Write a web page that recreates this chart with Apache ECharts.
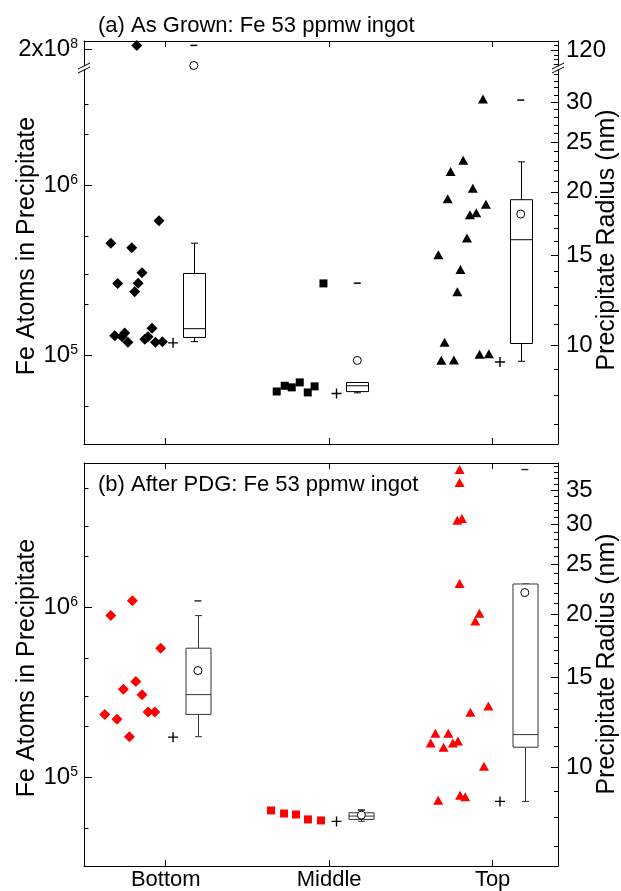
<!DOCTYPE html>
<html lang="en">
<head>
  <meta charset="UTF-8">
  <title>Fe precipitates</title>
  <script src="https://cdn.jsdelivr.net/npm/echarts@6/dist/echarts.min.js"></script>
  <style>
    html, body { margin: 0; padding: 0; background: #fff; }
    #main { width: 621px; height: 891px; }
  </style>
</head>
<body>
<div id="main"></div>
<script type="text/javascript">
  // categories sit at x = 1, 2, 3 ; points are spread to the left of each tick
  var categories = ['Bottom', 'Middle', 'Top'];

  // (a) as grown -- Fe atoms per precipitate, and x offset from the category tick
  var grownBottomN = [2.1e8, 6.17e5, 4.54e5, 4.28e5, 3.05e5, 2.64e5, 2.65e5, 2.36e5, 1.44e5, 1.30e5, 1.35e5, 1.28e5, 1.19e5, 1.24e5, 1.28e5, 1.19e5, 1.20e5];
  var grownBottomDx = [-0.177, -0.041, -0.336, -0.208, -0.145, -0.294, -0.169, -0.190, -0.084, -0.312, -0.251, -0.267, -0.231, -0.128, -0.108, -0.063, -0.020];
  var grownMiddleN = [6.11e4, 6.60e4, 6.46e4, 6.91e4, 6.03e4, 6.55e4, 2.64e5];
  var grownMiddleDx = [-0.321, -0.272, -0.229, -0.180, -0.131, -0.089, -0.035];
  var grownTopN = [3.21e6, 1.40e6, 1.20e6, 9.57e5, 8.30e5, 7.70e5, 6.69e5, 6.87e5, 4.88e5, 3.89e5, 3.19e5, 2.36e5, 1.19e5, 9.31e4, 9.35e4, 1.01e5, 1.02e5];
  var grownTopDx = [-0.059, -0.180, -0.257, -0.121, -0.275, -0.041, -0.139, -0.100, -0.157, -0.332, -0.197, -0.216, -0.294, -0.314, -0.237, -0.080, -0.023];

  // box stats per category: [low whisker, Q1, median, Q3, high whisker]
  var grownBox = [[1.20e5, 1.27e5, 1.43e5, 3.02e5, 4.55e5], [6.0e4, 6.1e4, 6.6e4, 6.9e4, 6.9e4], [9.2e4, 1.17e5, 4.77e5, 8.2e5, 1.37e6]];
  var grownMean = [1.6e8, 9.3e4, 6.75e5];
  var grownMax = [2.1e8, 2.65e5, 3.16e6];
  var grownMin = [1.18e5, 5.95e4, 9.1e4];

  // (b) after PDG
  var pdgBottomN = [1.09e6, 8.93e5, 5.74e5, 3.65e5, 3.29e5, 3.05e5, 2.34e5, 2.19e5, 2.42e5, 2.42e5, 1.73e5];
  var pdgBottomDx = [-0.204, -0.336, -0.031, -0.183, -0.259, -0.145, -0.373, -0.298, -0.108, -0.067, -0.222];
  var pdgMiddleN = [6.37e4, 6.11e4, 6.03e4, 5.64e4, 5.56e4];
  var pdgMiddleDx = [-0.356, -0.276, -0.203, -0.130, -0.050];
  var pdgTopN = [6.46e6, 5.42e6, 3.25e6, 3.33e6, 1.38e6, 9.22e5, 8.31e5, 2.62e5, 2.41e5, 1.81e5, 1.81e5, 1.59e5, 1.50e5, 1.59e5, 1.63e5, 1.16e5, 7.32e4, 7.83e4, 7.66e4];
  var pdgTopDx = [-0.202, -0.202, -0.216, -0.188, -0.202, -0.081, -0.106, -0.026, -0.136, -0.350, -0.271, -0.379, -0.300, -0.243, -0.212, -0.053, -0.333, -0.199, -0.168];

  var pdgBox = [[1.73e5, 2.34e5, 3.06e5, 5.74e5, 8.93e5], [5.5e4, 5.64e4, 5.9e4, 6.17e4, 6.4e4], [7.2e4, 1.50e5, 1.78e5, 1.37e6, 1.37e6]];
  var pdgMean = [4.24e5, 5.98e4, 1.22e6];
  var pdgMax = [1.09e6, 6.4e4, 6.46e6];
  var pdgMin = [1.72e5, 5.49e4, 7.2e4];

  // axis ranges (atoms) and tick lists
  var rangeAUpper = [1.589e8, 2.229e8];
  var rangeALower = [3e4, 4.75e6];
  var rangeB = [3e4, 7.06e6];
  var leftLabelN = [1e5, 1e6, 2e8];
  var leftMinorN = [2e4, 3e4, 5e4, 2e5, 3e5, 5e5, 2e6, 3e6, 5e6];
  var radiusLabels = [10, 15, 20, 25, 30, 35, 120];
  var radiusMinor = [6, 7, 8, 9, 11, 12, 13, 14, 16, 17, 18, 19, 21, 22, 23, 24, 26, 27, 28, 29, 31, 32, 33, 34, 36, 37, 38, 39, 40, 112.5, 115, 117.5, 122.5, 125];
  var radius10N = 1.14e5;  // atoms in a 10 nm precipitate

  var FONT = '"Liberation Sans", Arial, sans-serif';
  var plusPath = 'path://M0,4.3H10V5.7H0Z M4.3,0H5.7V10H4.3Z';

  function nToR(n) { return 10 * Math.cbrt(n / radius10N); }
  function lg(v) { return Math.log10(v); }
  function pts(cat, dx, n) {
    return n.map(function (v, i) { return [cat + dx[i], v]; });
  }
  function powLabel(v) {
    var e = Math.floor(v + 1e-9);
    var m = Math.round(Math.pow(10, v - e));
    return (m === 1 ? '' : m + 'x') + '10{s|' + e + '}';
  }

  var myChart = echarts.init(document.getElementById('main'), null, { renderer: 'canvas' });

  var grids = [
    { left: 84, right: 63, top: 41, height: 25 },   // (a) above the break
    { left: 84, right: 63, top: 70, height: 374 },  // (a) below the break
    { left: 84, right: 63, top: 463, height: 403 }  // (b)
  ];
  grids.forEach(function (g) { g.containLabel = false; g.outerBoundsMode = 'none'; });

  function xAxis(g, pos, labels) {
    return {
      type: 'value', gridIndex: g, position: pos, min: 0.5, max: 3.4,
      axisLine: { show: true, onZero: false, lineStyle: { color: '#000', width: 1 } },
      axisTick: { show: true, inside: true, length: 6, customValues: [1, 2, 3], lineStyle: { color: '#000' } },
      axisLabel: {
        show: labels, customValues: [1, 2, 3], margin: 3,
        formatter: function (v) { return categories[Math.round(v) - 1]; },
        color: '#000', fontFamily: FONT, fontSize: 22
      },
      splitLine: { show: false }
    };
  }

  function yAxes(g, range) {
    var lo = lg(range[0]), hi = lg(range[1]);
    var rlo = lg(nToR(range[0])), rhi = lg(nToR(range[1]));
    var noLine = { show: false, onZero: false };
    return [
      { type: 'log', logBase: 10, gridIndex: g, min: range[0], max: range[1], position: 'left',
        axisLine: { show: true, onZero: false, lineStyle: { color: '#000', width: 1 } },
        axisTick: { show: false }, axisLabel: { show: false }, splitLine: { show: false } },
      { type: 'value', gridIndex: g, min: lo, max: hi, position: 'left', axisLine: noLine, splitLine: { show: false },
        axisTick: { show: true, inside: true, length: 8, customValues: leftLabelN.map(lg), lineStyle: { color: '#000' } },
        axisLabel: { show: true, customValues: leftLabelN.map(lg), formatter: powLabel, margin: 6,
          color: '#000', fontFamily: FONT, fontSize: 24,
          rich: { s: { fontSize: 14, fontFamily: FONT, verticalAlign: 'top', color: '#000' } } } },
      { type: 'value', gridIndex: g, min: lo, max: hi, position: 'left', axisLine: noLine, splitLine: { show: false },
        axisTick: { show: true, inside: true, length: 4.5, customValues: leftMinorN.map(lg), lineStyle: { color: '#000' } },
        axisLabel: { show: false } },
      { type: 'value', gridIndex: g, min: rlo, max: rhi, position: 'right', splitLine: { show: false },
        axisLine: { show: true, onZero: false, lineStyle: { color: '#000', width: 1 } },
        axisTick: { show: true, inside: true, length: 7, customValues: radiusLabels.map(lg), lineStyle: { color: '#000' } },
        axisLabel: { show: true, customValues: radiusLabels.map(lg), margin: 8,
          formatter: function (v) { return String(Math.round(Math.pow(10, v))); },
          color: '#000', fontFamily: FONT, fontSize: 24 } },
      { type: 'value', gridIndex: g, min: rlo, max: rhi, position: 'right', axisLine: noLine, splitLine: { show: false },
        axisTick: { show: true, inside: true, length: 4, customValues: radiusMinor.map(lg), lineStyle: { color: '#000' } },
        axisLabel: { show: false } }
    ];
  }

  var xAxes = [xAxis(0, 'top', false), xAxis(1, 'bottom', false), xAxis(2, 'bottom', true), xAxis(2, 'top', false)];
  var yAxesAll = [].concat(yAxes(0, rangeAUpper), yAxes(1, rangeALower), yAxes(2, rangeB));

  var series = [];
  function scatter(ax, data, symbol, size, style) {
    style.opacity = 1;
    series.push({
      type: 'scatter', xAxisIndex: ax[0], yAxisIndex: ax[1], data: data, clip: true, silent: true,
      symbol: symbol, symbolSize: size, itemStyle: style, z: 3
    });
  }

  function boxRender(boxW, color) {
    return function (params, api) {
      var x = api.value(0);
      var lo = api.coord([x, api.value(1)]), q1 = api.coord([x, api.value(2)]);
      var md = api.coord([x, api.value(3)]), q3 = api.coord([x, api.value(4)]);
      var hi = api.coord([x, api.value(5)]);
      var cx = Math.round(lo[0]) + 0.5, h = boxW / 2, c = 3.5;
      var st = { stroke: color, lineWidth: 1, fill: null };
      return {
        type: 'group', children: [
          { type: 'line', shape: { x1: cx, y1: q3[1], x2: cx, y2: hi[1] }, style: st },
          { type: 'line', shape: { x1: cx, y1: q1[1], x2: cx, y2: lo[1] }, style: st },
          { type: 'line', shape: { x1: cx - c, y1: hi[1], x2: cx + c, y2: hi[1] }, style: st },
          { type: 'line', shape: { x1: cx - c, y1: lo[1], x2: cx + c, y2: lo[1] }, style: st },
          { type: 'rect', shape: { x: cx - h, y: q3[1], width: boxW, height: q1[1] - q3[1] }, style: { stroke: color, lineWidth: 1, fill: '#fff' } },
          { type: 'line', shape: { x1: cx - h, y1: md[1], x2: cx + h, y2: md[1] }, style: st }
        ]
      };
    };
  }

  function panel(axList, groups, boxes, means, maxs, mins, color, boxDx, boxW, boxColor) {
    var symbols = ['diamond', 'rect', 'triangle'];
    var sizes = [11, 8, [10, 9]];
    axList.forEach(function (ax) {
      groups.forEach(function (gr, i) {
        scatter(ax, pts(i + 1, gr[1], gr[0]), symbols[i], sizes[i], { color: color });
      });
      scatter(ax, mins.map(function (v, i) { return [i + 1.045, v]; }), plusPath, 10, { color: '#000' });
      scatter(ax, maxs.map(function (v, i) { return [i + 1 + boxDx, v]; }), 'rect', [7, 1.5], { color: boxColor });
      scatter(ax, means.map(function (v, i) { return [i + 1 + boxDx, v]; }), 'circle', 8,
        { color: '#fff', borderColor: '#000', borderWidth: 1 });
    });
    var ax = axList[axList.length - 1];
    series.push({
      type: 'custom', xAxisIndex: ax[0], yAxisIndex: ax[1], silent: true, z: 2,
      renderItem: boxRender(boxW, boxColor),
      encode: { x: 0, y: [1, 2, 3, 4, 5] },
      data: boxes.map(function (b, i) { return [i + 1 + boxDx].concat(b); })
    });
  }

  panel([[0, 0], [1, 5]],
    [[grownBottomN, grownBottomDx], [grownMiddleN, grownMiddleDx], [grownTopN, grownTopDx]],
    grownBox, grownMean, grownMax, grownMin, '#000', 0.172, 22, '#000');
  panel([[2, 10]],
    [[pdgBottomN, pdgBottomDx], [pdgMiddleN, pdgMiddleDx], [pdgTopN, pdgTopDx]],
    pdgBox, pdgMean, pdgMax, pdgMin, '#ff0000', 0.197, 25, '#333');

  // axis break marks of panel (a)
  function breakMarks(x) {
    var st = { stroke: '#000', lineWidth: 1 };
    return [
      { type: 'line', shape: { x1: x - 6, y1: 69, x2: x + 6, y2: 63 }, style: st, z: 100 },
      { type: 'line', shape: { x1: x - 6, y1: 73, x2: x + 6, y2: 67 }, style: st, z: 100 }
    ];
  }
  function label(text, x, y, rot, size, align) {
    return {
      type: 'text', x: x, y: y, rotation: rot, z: 100,
      style: { text: text, font: size + 'px ' + FONT, fill: '#000', align: align || 'center', verticalAlign: 'middle' }
    };
  }

  var graphics = [].concat(breakMarks(84), breakMarks(558), [
    label('(a) As Grown: Fe 53 ppmw ingot', 98, 26, 0, 22, 'left'),
    label('(b) After PDG: Fe 53 ppmw ingot', 98, 485, 0, 22, 'left'),
    label('Fe Atoms in Precipitate', 27, 246, Math.PI / 2, 25),
    label('Fe Atoms in Precipitate', 27, 668, Math.PI / 2, 25),
    label('Precipitate Radius (nm)', 607, 240, Math.PI / 2, 25),
    label('Precipitate Radius (nm)', 607, 664, Math.PI / 2, 25)
  ]);

  myChart.setOption({
    animation: false,
    backgroundColor: '#fff',
    grid: grids,
    xAxis: xAxes,
    yAxis: yAxesAll,
    series: series,
    graphic: graphics
  });
</script>
</body>
</html>
